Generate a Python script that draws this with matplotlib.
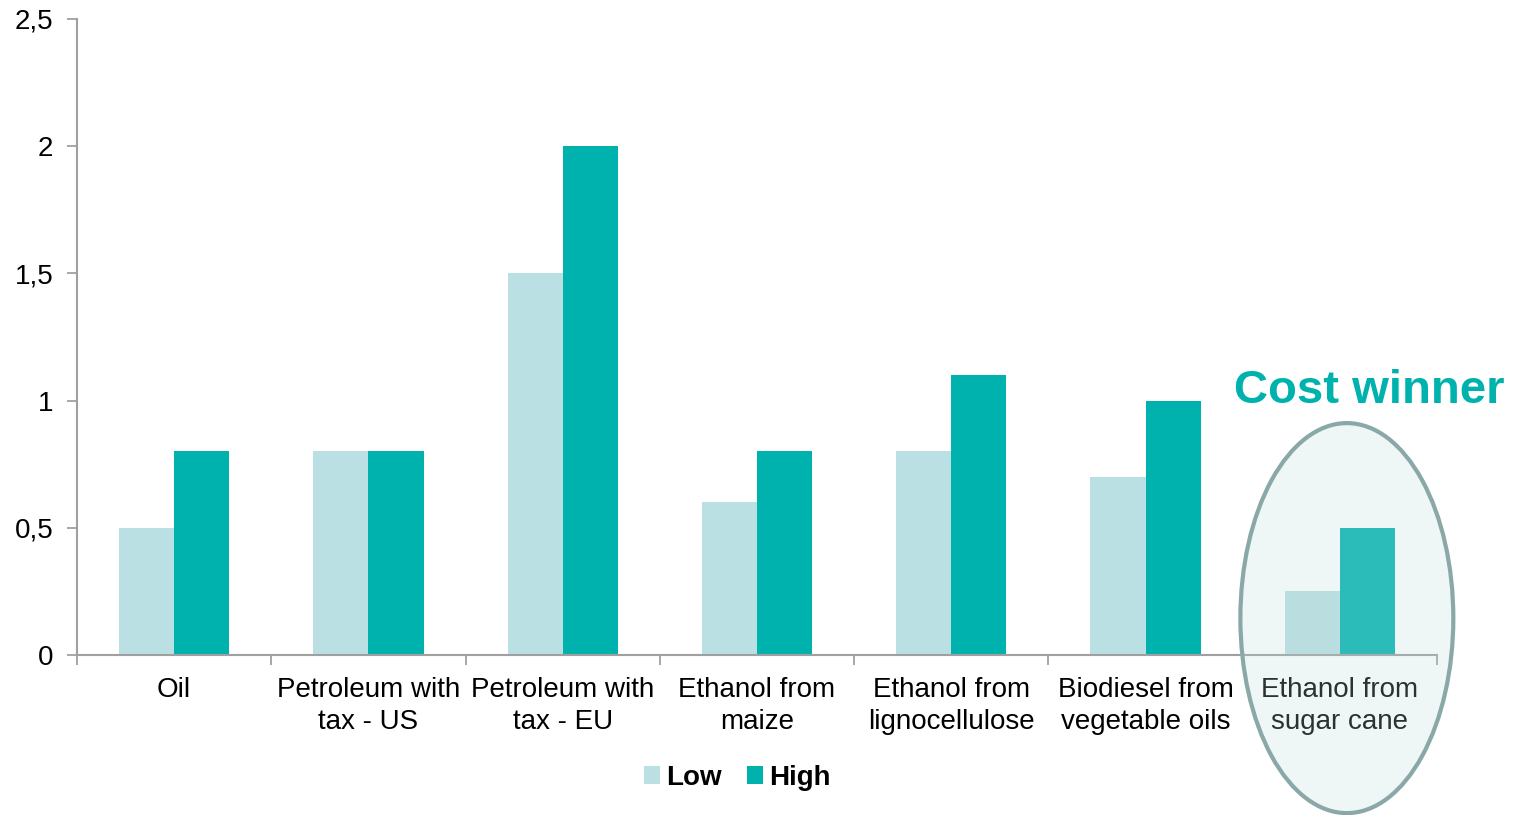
import numpy as np
import matplotlib.pyplot as plt
from matplotlib.patches import Ellipse
from matplotlib.ticker import FuncFormatter

plt.rcParams['font.family'] = ['Liberation Sans', 'DejaVu Sans']

categories = ["Oil", "Petroleum with\ntax - US", "Petroleum with\ntax - EU", "Ethanol from\nmaize",
              "Ethanol from\nlignocellulose", "Biodiesel from\nvegetable oils", "Ethanol from\nsugar cane"]
low = [0.5, 0.8, 1.5, 0.6, 0.8, 0.7, 0.25]
high = [0.8, 0.8, 2.0, 0.8, 1.1, 1.0, 0.5]
yticks = [0, 0.5, 1, 1.5, 2, 2.5]

c_low = '#BAE0E3'
c_high = '#00B2AE'
grey = '#A0A0A0'

fig = plt.figure(figsize=(15.19, 8.15), dpi=100)
ax = fig.add_axes([77/1519, 1 - 655/815, 1360/1519, 636/815])

x = np.arange(len(categories))
w = 0.284
ax.bar(x - w/2, low, w, color=c_low, label='Low')
ax.bar(x + w/2, high, w, color=c_high, label='High')

ax.set_xlim(-0.5, len(categories) - 0.5)
ax.set_ylim(0, 2.5)
ax.set_yticks(yticks)
ax.yaxis.set_major_formatter(FuncFormatter(lambda v, p: ('%g' % v).replace('.', ',')))
ax.set_xticks(x)
ax.set_xticklabels(categories, linespacing=1.3)
ax.set_xticks(np.arange(-0.5, len(categories)), minor=True)
ax.tick_params(axis='x', which='major', length=0, pad=16, labelsize=20)
ax.tick_params(axis='x', which='minor', length=7, width=1.3, color=grey, direction='out')
ax.tick_params(axis='y', length=7, width=1.3, color=grey, labelsize=20, pad=10)
for s in ['top', 'right']:
    ax.spines[s].set_visible(False)
for s in ['left', 'bottom']:
    ax.spines[s].set_color(grey)
    ax.spines[s].set_linewidth(1.5)

# highlight ellipse around the cheapest option
ell = Ellipse((6.036, 0.145), 1.096, 1.533, facecolor='#BDD9DA', alpha=0.23,
              edgecolor='none', clip_on=False, zorder=5)
ax.add_patch(ell)
ell2 = Ellipse((6.036, 0.145), 1.096, 1.533, facecolor='none', edgecolor='#8AA8A8',
               linewidth=3, clip_on=False, zorder=6)
ax.add_patch(ell2)
ax.text(6.15, 0.95, "Cost winner", color=c_high, fontsize=34, fontweight='bold',
        ha='center', va='bottom')

fig.legend(loc='center', bbox_to_anchor=(737/1519, 1 - 778/815), ncol=2, frameon=False,
           prop={'size': 20, 'weight': 'bold'}, handlelength=0.6, handleheight=0.6,
           handletextpad=0.2, columnspacing=0.9)

fig.savefig('out.png', dpi=100)
